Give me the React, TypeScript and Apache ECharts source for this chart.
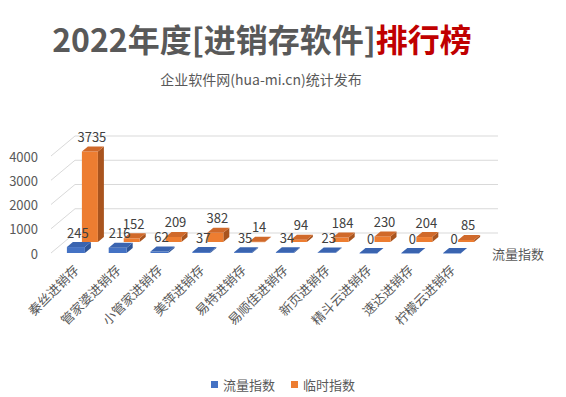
import React, { useEffect, useRef } from 'react';
import * as echarts from 'echarts';

const categories = ['秦丝进销存', '管家婆进销存', '小管家进销存', '美萍进销存', '易特进销存', '易顺佳进销存', '新页进销存', '精斗云进销存', '速达进销存', '柠檬云进销存'];
const flowIndex = [245, 216, 62, 37, 35, 34, 23, 0, 0, 0];
const tempIndex = [3735, 152, 209, 382, 14, 94, 184, 230, 204, 85];
const yTicks = [0, 1000, 2000, 3000, 4000];
const seriesNames = ['流量指数', '临时指数'];
const titleMain = '2022年度[进销存软件]';
const titleRed = '排行榜';
const subtitle = '企业软件网(hua-mi.cn)统计发布';

const FONT = '"Noto Sans CJK SC", "Noto Sans", sans-serif';
const GRAY = '#595959';
const FRONT = { left: 55, top: 156, width: 418, height: 97 };
const WALL_DX = 20;
const WALL_DY = -20;
const WALL_EXTRA = 5;

type BoxStyle = { dx: number; dy: number; w: number; front: string; top: string; side: string };

function makeBox(s: BoxStyle) {
  const depthX = 6;
  const depthY = -5;
  return (params: any, api: any) => {
    const i = api.value(0);
    const v = api.value(1);
    const pt = api.coord([i, v]);
    const p0 = api.coord([i, 0]);
    const cx = pt[0] + s.dx;
    const yTop = pt[1] + s.dy;
    const yBot = p0[1] + s.dy;
    const x0 = cx - s.w / 2;
    const x1 = cx + s.w / 2;
    return {
      type: 'group',
      children: [
        {
          type: 'polygon',
          shape: { points: [[x1, yTop], [x1 + depthX, yTop + depthY], [x1 + depthX, yBot + depthY], [x1, yBot]] },
          style: { fill: s.side },
        },
        {
          type: 'rect',
          shape: { x: x0, y: yTop, width: s.w, height: Math.max(yBot - yTop, 0.5) },
          style: { fill: s.front },
        },
        {
          type: 'polygon',
          shape: { points: [[x0, yTop], [x1, yTop], [x1 + depthX, yTop + depthY], [x0 + depthX, yTop + depthY]] },
          style: { fill: s.top },
        },
        {
          type: 'text',
          style: {
            text: String(v),
            x: cx + 2,
            y: yTop - 15,
            align: 'center',
            verticalAlign: 'middle',
            fontSize: 13,
            fontFamily: FONT,
            fill: '#404040',
          },
        },
      ],
    };
  };
}

export default function App() {
  const ref = useRef<HTMLDivElement>(null);

  useEffect(() => {
    if (!ref.current) return;
    const chart = echarts.init(ref.current, undefined, { renderer: 'svg' });
    chart.setOption({
      animation: false,
      backgroundColor: '#ffffff',
      textStyle: { fontFamily: FONT },
      graphic: [
        {
          type: 'text',
          x: 262,
          y: 38,
          style: {
            text: `{a|${titleMain}}{b|${titleRed}}`,
            align: 'center',
            verticalAlign: 'middle',
            rich: {
              a: { fontSize: 32, fontWeight: 'bold', fill: GRAY, fontFamily: FONT },
              b: { fontSize: 32, fontWeight: 'bold', fill: '#c00000', fontFamily: FONT },
            },
          },
        },
        {
          type: 'text',
          x: 261,
          y: 79,
          style: { text: subtitle, align: 'center', verticalAlign: 'middle', fontSize: 14, fill: GRAY, fontFamily: FONT },
        },
        {
          type: 'text',
          x: 492,
          y: 253,
          style: { text: seriesNames[0], align: 'left', verticalAlign: 'middle', fontSize: 13, fill: GRAY, fontFamily: FONT },
        },
      ],
      legend: {
        data: seriesNames,
        top: 373,
        left: 'center',
        icon: 'rect',
        itemWidth: 7,
        itemHeight: 7,
        itemGap: 16,
        textStyle: { fontSize: 13, color: GRAY, fontFamily: FONT },
      },
      grid: { ...FRONT },
      xAxis: {
        type: 'category',
        data: categories,
        axisLine: { show: false },
        axisTick: { show: false },
        axisLabel: { rotate: 45, interval: 0, fontSize: 13, color: GRAY, margin: 14, fontFamily: FONT },
        splitLine: { show: false },
      },
      yAxis: {
        type: 'value',
        min: 0,
        max: 4000,
        interval: 1000,
        axisLine: { show: false },
        axisTick: { show: false },
        axisLabel: { fontSize: 13, color: GRAY, margin: 17, fontFamily: FONT, formatter: (v: number) => String(v) },
        splitLine: { show: false },
      },
      series: [
        {
          name: 'wall',
          type: 'custom',
          z: 1,
          silent: true,
          encode: { x: 0, y: 1 },
          data: yTicks.map((v) => [0, v]),
          renderItem: (params: any, api: any) => {
            const y = api.coord([0, api.value(1)])[1];
            const cs = params.coordSys;
            const xl = cs.x - 4;
            const xr = cs.x + cs.width + WALL_DX + WALL_EXTRA;
            return {
              type: 'polyline',
              shape: { points: [[xl, y], [xl + WALL_DX + 4, y + WALL_DY], [xr, y + WALL_DY]] },
              style: { stroke: '#d9d9d9', lineWidth: 1, fill: null },
            };
          },
        },
        {
          name: seriesNames[0],
          type: 'custom',
          z: 4,
          itemStyle: { color: '#4472c4' },
          encode: { x: 0, y: 1 },
          data: flowIndex.map((v, i) => [i, v]),
          renderItem: makeBox({ dx: 0, dy: 0, w: 18, front: '#4472c4', top: '#3a64b0', side: '#2f5597' }),
        },
        {
          name: seriesNames[1],
          type: 'custom',
          z: 3,
          itemStyle: { color: '#ed7d31' },
          encode: { x: 0, y: 1 },
          data: tempIndex.map((v, i) => [i, v]),
          renderItem: makeBox({ dx: 14, dy: -11, w: 16, front: '#ed7d31', top: '#d0692a', side: '#a9541e' }),
        },
      ],
    });
    return () => chart.dispose();
  }, []);

  return <div ref={ref} style={{ position: 'fixed', left: 0, top: 0, width: 566, height: 397 }} />;
}
